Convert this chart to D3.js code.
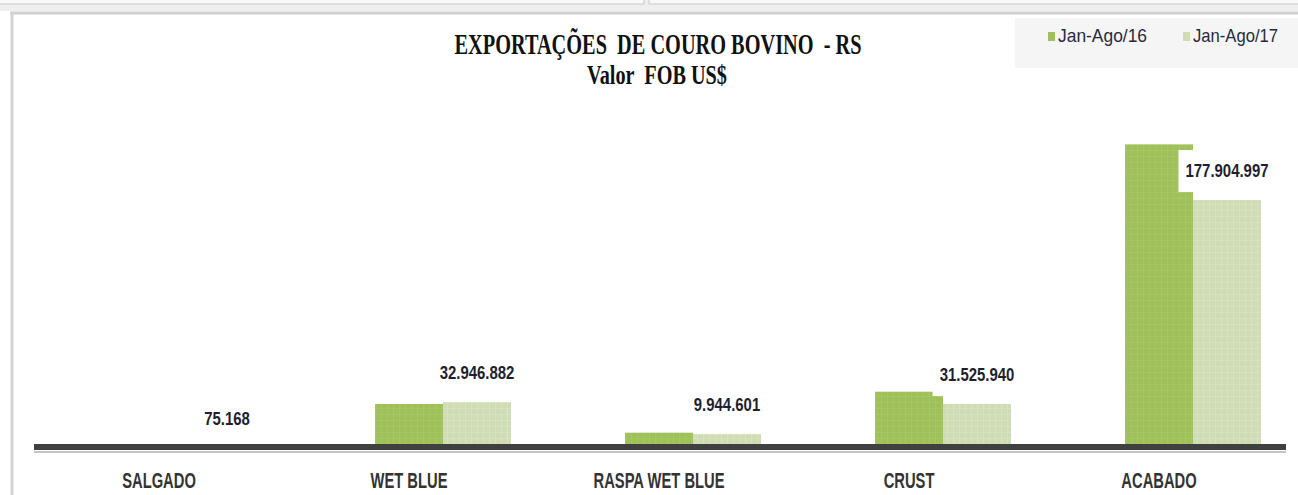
<!DOCTYPE html>
<html>
<head>
<meta charset="utf-8">
<script src="https://cdn.jsdelivr.net/npm/d3@7"></script>
<style>
  body { margin: 0; background: #fff; }
  svg { display: block; }
</style>
</head>
<body>
<svg width="1298" height="495"></svg>
<script>
// chart data
var categories = ["SALGADO", "WET BLUE", "RASPA WET BLUE", "CRUST", "ACABADO"];
var seriesNames = ["Jan-Ago/16", "Jan-Ago/17"];
var values16 = [150000, 31600000, 11000000, 40400000, 217900000];
var values17 = [75168, 32946882, 9944601, 31525940, 177904997];     // labelled values
var titleLines = ["EXPORTAÇÕES  DE COURO BOVINO  - RS", "Valor  FOB US$"];

var colors = ["#9fc05b", "#cfdcb6"];

var svg = d3.select("svg");
var W = 1298, H = 495;

var loc = d3.formatLocale({decimal: ",", thousands: ".", grouping: [3], currency: ["", ""]});
var fmt = loc.format(",d");

// frame bits (spreadsheet window look)
svg.append("rect").attr("x", 0).attr("y", 0).attr("width", W).attr("height", 11).attr("fill", "#efefef");
svg.append("rect").attr("x", -2).attr("y", -2).attr("width", 646).attr("height", 6)
    .attr("fill", "#fafafa").attr("stroke", "#c9c9c9");
svg.append("rect").attr("x", 649).attr("y", -2).attr("width", 660).attr("height", 6)
    .attr("fill", "#fafafa").attr("stroke", "#c9c9c9");
svg.append("line").attr("x1", 10).attr("x2", W).attr("y1", 13).attr("y2", 13)
    .attr("stroke", "#cfcfcf").attr("stroke-width", 3);
svg.append("line").attr("x1", 12).attr("x2", 12).attr("y1", 13).attr("y2", H)
    .attr("stroke", "#d4d4d4").attr("stroke-width", 3);

// bar texture patterns
var defs = svg.append("defs");
colors.forEach(function(c, i) {
    var p = defs.append("pattern").attr("id", "pat" + i)
	.attr("width", 6).attr("height", 6).attr("patternUnits", "userSpaceOnUse");
    p.append("rect").attr("width", 6).attr("height", 6).attr("fill", c);
    p.append("path").attr("d", "M0,0.5H6M0.5,0V6")
	.attr("stroke", d3.color(c).brighter(0.3)).attr("stroke-width", 1).attr("opacity", 0.3);
});

// scales
var x0 = d3.scaleBand().domain(categories).range([68, 1318])
    .paddingInner(0.456).paddingOuter(0.228);
var x1 = d3.scaleBand().domain(seriesNames).range([0, x0.bandwidth()]);
var y = d3.scaleLinear().domain([0, 250000000]).range([448, 448 - 348.4]);

var rows = categories.map(function(c, i) {
    return {cat: c, vals: [values16[i], values17[i]]};
});

// bars
var groups = svg.append("g").selectAll("g").data(rows).enter().append("g")
    .attr("transform", function(d) { return "translate(" + x0(d.cat) + ",0)"; });

groups.selectAll("rect").data(function(d) {
	return d.vals.map(function(v, i) { return {s: seriesNames[i], v: v, i: i}; });
    }).enter().append("rect")
    .attr("x", function(d) { return x1(d.s); })
    .attr("width", x1.bandwidth())
    .attr("y", function(d) { return y(d.v); })
    .attr("height", function(d) { return y(0) - y(d.v); })
    .attr("fill", function(d) { return "url(#pat" + d.i + ")"; });

// axis line
svg.append("line").attr("x1", 34).attr("x2", 1286).attr("y1", 452).attr("y2", 452)
    .attr("stroke", "#c4c4c4").attr("stroke-width", 2);
svg.append("line").attr("x1", 34).attr("x2", 1286).attr("y1", 447).attr("y2", 447)
    .attr("stroke", "#404040").attr("stroke-width", 6);

// value labels (2017 series) with white box
var labG = svg.append("g");
rows.forEach(function(d) {
    var v = d.vals[1];
    var cx = x0(d.cat) + x1(seriesNames[1]) + x1.bandwidth() / 2;
    var top = y(v);
    var g = labG.append("g");
    var box = g.append("rect").attr("fill", "#fff");
    var t = g.append("text")
	.attr("transform", "translate(" + cx + "," + (top - 29) + ") scale(0.83,1)")
	.attr("text-anchor", "middle")
	.attr("dy", "0.35em")
	.style("font-family", "Liberation Sans, Arial, sans-serif")
	.style("font-weight", "bold")
	.style("font-size", "18px")
	.attr("fill", "#1f1f2e")
	.text(fmt(v));
    var w = t.node().getComputedTextLength() * 0.83;
    box.attr("x", cx - w / 2 - 7).attr("width", w + 14)
	.attr("y", top - 50).attr("height", 42);
});

// category labels
svg.append("g").selectAll("text").data(categories).enter().append("text")
    .attr("transform", function(d) {
	return "translate(" + (x0(d) + x0.bandwidth() / 2 - 34) + ",488) scale(0.67,1)";
    })
    .attr("text-anchor", "middle")
    .style("font-family", "Liberation Sans, Arial, sans-serif")
    .style("font-weight", "bold")
    .style("font-size", "22px")
    .attr("fill", "#333")
    .text(function(d) { return d; });

// title
svg.append("text").attr("x", 658).attr("y", 54)
    .attr("text-anchor", "middle")
    .attr("textLength", 407).attr("lengthAdjust", "spacingAndGlyphs")
    .style("white-space", "pre")
    .style("font-family", "Liberation Serif, Times New Roman, serif")
    .style("font-weight", "bold").style("font-size", "29px")
    .attr("fill", "#111")
    .text(titleLines[0]);
svg.append("text").attr("x", 657).attr("y", 84)
    .attr("text-anchor", "middle")
    .attr("textLength", 140).attr("lengthAdjust", "spacingAndGlyphs")
    .style("white-space", "pre")
    .style("font-family", "Liberation Serif, Times New Roman, serif")
    .style("font-weight", "bold").style("font-size", "27px")
    .attr("fill", "#111")
    .text(titleLines[1]);

// legend
svg.append("rect").attr("x", 1015).attr("y", 18).attr("width", 283).attr("height", 50)
    .attr("fill", "#f5f5f5");
var legX = [1048, 1183];
var leg = svg.append("g").selectAll("g").data(seriesNames).enter().append("g")
    .attr("transform", function(d, i) { return "translate(" + legX[i] + ",0)"; });
leg.append("rect").attr("x", 0).attr("y", 32).attr("width", 7).attr("height", 9)
    .attr("fill", function(d, i) { return colors[i]; });
leg.append("text").attr("x", 10).attr("y", 42)
    .attr("textLength", function(d, i) { return i == 0 ? 89 : 85; })
    .attr("lengthAdjust", "spacingAndGlyphs")
    .style("font-family", "Liberation Sans, Arial, sans-serif")
    .style("font-size", "19px")
    .attr("fill", "#2a2a3a")
    .text(function(d) { return d; });
</script>
</body>
</html>
